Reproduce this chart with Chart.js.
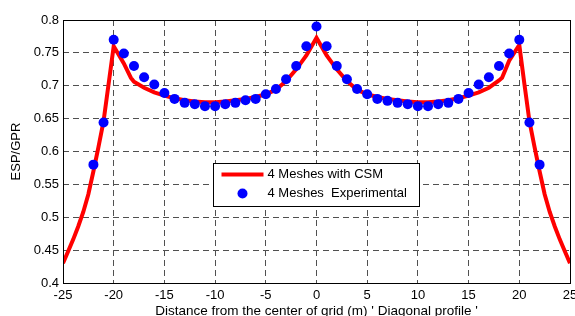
<!DOCTYPE html>
<html>
<head>
<meta charset="utf-8">
<script src="https://cdn.jsdelivr.net/npm/chart.js@4.4.1/dist/chart.umd.min.js"></script>
<style>
html,body{margin:0;padding:0;background:#fff;}
#wrap{width:575px;height:316px;position:relative;}
</style>
</head>
<body>
<div id="wrap"><canvas id="c" width="575" height="316"></canvas></div>
<script>
// ---- data ----
const expX = [-22,-21,-20,-19,-18,-17,-16,-15,-14,-13,-12,-11,-10,-9,-8,-7,-6,-5,-4,-3,-2,-1,0,1,2,3,4,5,6,7,8,9,10,11,12,13,14,15,16,17,18,19,20,21,22];
const expY = [0.580,0.644,0.770,0.749,0.730,0.713,0.702,0.689,0.680,0.674,0.672,0.669,0.669,0.672,0.674,0.678,0.680,0.687,0.695,0.710,0.730,0.760,0.790,0.760,0.730,0.710,0.695,0.687,0.680,0.677,0.674,0.672,0.669,0.669,0.672,0.674,0.680,0.689,0.702,0.713,0.730,0.749,0.770,0.644,0.580];
const csmX = [-25,-24.5,-24,-23.5,-23,-22.5,-22,-21.5,-21,-20.5,-20,-19,-18.3,-18,-17,-16,-15,-14,-13,-12,-11,-10,-9,-8,-7,-6,-5,-4,-3,-2,-1,0,1,2,3,4,5,6,7,8,9,10,11,12,13,14,15,16,17,18,18.3,19,20,20.5,21,21.5,22,22.5,23,23.5,24,24.5,25];
const csmY = [0.430,0.448,0.466,0.486,0.508,0.535,0.570,0.607,0.646,0.703,0.760,0.734,0.712,0.706,0.697,0.690,0.685,0.681,0.678,0.676,0.675,0.675,0.676,0.678,0.680,0.683,0.687,0.694,0.707,0.725,0.746,0.773,0.746,0.725,0.707,0.694,0.687,0.683,0.680,0.678,0.676,0.675,0.675,0.676,0.678,0.681,0.685,0.690,0.697,0.708,0.712,0.738,0.762,0.703,0.646,0.607,0.570,0.535,0.508,0.486,0.466,0.448,0.430];
const xTicks = [-25,-20,-15,-10,-5,0,5,10,15,20,25];
const yTicks = [0.4,0.45,0.5,0.55,0.6,0.65,0.7,0.75,0.8];
const csmLabel = '4 Meshes with CSM';
const expLabel = '4 Meshes  Experimental';
const xTitle = "Distance from the center of grid (m) ' Diagonal profile '";
const yTitle = 'ESP/GPR';

const FONT = "'Liberation Sans', Arial, sans-serif";

const boxPlugin = {
  id: 'boxAndLegend',
  afterDraw(chart) {
    const ctx = chart.ctx;
    const a = chart.chartArea;
    ctx.save();
    // frame
    ctx.strokeStyle = '#000';
    ctx.lineWidth = 1;
    ctx.setLineDash([]);
    ctx.strokeRect(Math.round(a.left) + 0.5, Math.round(a.top) + 0.5, Math.round(a.right - a.left), Math.round(a.bottom - a.top));
    // legend
    const lx = a.left + 150.5, ly = a.top + 143.5, lw = 206, lh = 43;
    ctx.fillStyle = '#fff';
    ctx.fillRect(lx, ly, lw, lh);
    ctx.strokeRect(lx, ly, lw, lh);
    ctx.strokeStyle = '#ff0000';
    ctx.lineWidth = 4;
    ctx.beginPath();
    ctx.moveTo(lx + 8, ly + 11);
    ctx.lineTo(lx + 50, ly + 11);
    ctx.stroke();
    ctx.fillStyle = '#0000ff';
    ctx.beginPath();
    ctx.arc(lx + 29, ly + 30, 5, 0, Math.PI * 2);
    ctx.fill();
    ctx.fillStyle = '#000';
    ctx.font = '13px ' + FONT;
    ctx.textBaseline = 'middle';
    ctx.textAlign = 'left';
    ctx.fillText(chart.data.datasets[0].label, lx + 54, ly + 11);
    ctx.fillText(chart.data.datasets[1].label, lx + 54, ly + 30);
    ctx.restore();
  }
};

new Chart(document.getElementById('c'), {
  type: 'scatter',
  data: {
    datasets: [
      {
        label: csmLabel,
        data: csmX.map((x, i) => ({x, y: csmY[i]})),
        showLine: true,
        borderColor: '#ff0000',
        borderWidth: 4,
        pointRadius: 0,
        tension: 0,
        order: 2
      },
      {
        label: expLabel,
        data: expX.map((x, i) => ({x, y: expY[i]})),
        showLine: false,
        backgroundColor: '#0000ff',
        borderColor: '#0000ff',
        pointRadius: 5,
        borderWidth: 0,
        order: 1
      }
    ]
  },
  options: {
    responsive: false,
    animation: false,
    events: [],
    layout: {padding: {top: 20, right: 5, left: 0, bottom: 0}},
    plugins: {legend: {display: false}, tooltip: {enabled: false}},
    scales: {
      x: {
        type: 'linear',
        min: -25, max: 25,
        afterBuildTicks(s) { s.ticks = xTicks.map(v => ({value: v})); },
        afterFit(s) { s.height = 33; s.paddingLeft = 0; s.paddingRight = 0; },
        grid: {color: '#505050', lineWidth: 1, drawTicks: false},
        border: {display: false, dash: [6, 4]},
        ticks: {color: '#000', font: {family: FONT, size: 13}, padding: 5, maxRotation: 0, autoSkip: false, callback: v => String(v)},
        title: {display: true, text: xTitle, color: '#000', font: {family: FONT, size: 13.5}, padding: {top: 0, bottom: -3}}
      },
      y: {
        type: 'linear',
        min: 0.4, max: 0.8,
        afterBuildTicks(s) { s.ticks = yTicks.map(v => ({value: v})); },
        afterFit(s) { s.width = 63; s.paddingTop = 0; s.paddingBottom = 0; },
        grid: {color: '#505050', lineWidth: 1, drawTicks: false},
        border: {display: false, dash: [6, 4]},
        ticks: {color: '#000', font: {family: FONT, size: 13}, padding: 4, autoSkip: false, callback: v => String(+Number(v).toFixed(2))},
        title: {display: true, text: yTitle, color: '#000', font: {family: FONT, size: 13}, padding: {top: 9, bottom: 0}}
      }
    }
  },
  plugins: [boxPlugin]
});
</script>
</body>
</html>
